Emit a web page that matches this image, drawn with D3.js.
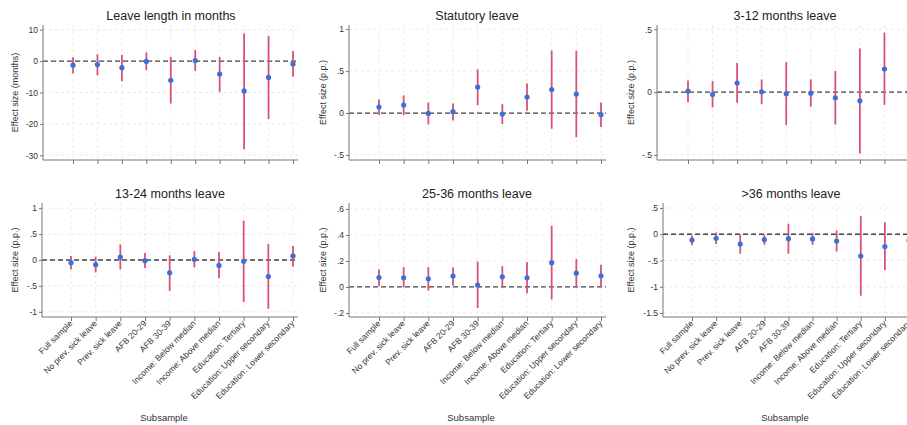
<!DOCTYPE html>
<html>
<head>
<meta charset="utf-8">
<script src="https://cdn.jsdelivr.net/npm/d3@7"></script>
<style>
  body { margin: 0; background: #fff; }
  svg { display: block; font-family: "Liberation Sans", Arial, sans-serif; }
</style>
</head>
<body>
<div id="chart"></div>
<script>
// subsamples on the x axis
var subsamples = ["Full sample", "No prev. sick leave", "Prev. sick leave", "AFB 20-29", "AFB 30-39",
  "Income: Below median", "Income: Above median", "Education: Tertiary", "Education: Upper secondary",
  "Education: Lower secondary"];

// leave length in months
var lengthEst = [-1.3, -1.1, -2.1, -0.1, -6.1, 0.2, -4.1, -9.5, -5.2, -0.9];
var lengthLo  = [-3.9, -4.5, -6.4, -2.9, -13.5, -3.1, -9.8, -28.1, -18.5, -5.0];
var lengthHi  = [1.2, 2.2, 2.0, 2.8, 1.3, 3.5, 1.3, 8.8, 8.1, 3.2];

// statutory leave
var statEst = [0.071, 0.095, -0.004, 0.016, 0.31, -0.012, 0.19, 0.28, 0.226, -0.02];
var statLo  = [-0.024, -0.024, -0.135, -0.09, 0.095, -0.13, 0.028, -0.187, -0.29, -0.167];
var statHi  = [0.163, 0.21, 0.127, 0.115, 0.52, 0.107, 0.353, 0.746, 0.742, 0.127];

// 3-12 months leave
var m3Est = [0.008, -0.019, 0.072, 0.003, -0.013, -0.008, -0.045, -0.069, 0.184, 0.0];
var m3Lo  = [-0.08, -0.122, -0.085, -0.096, -0.263, -0.117, -0.258, -0.489, -0.101, -0.1];
var m3Hi  = [0.093, 0.088, 0.231, 0.101, 0.239, 0.101, 0.168, 0.348, 0.473, 0.1];

// 13-24 months leave
var m13Est = [-0.052, -0.09, 0.058, -0.013, -0.247, 0.013, -0.104, -0.026, -0.318, 0.078];
var m13Lo  = [-0.18, -0.24, -0.18, -0.16, -0.597, -0.143, -0.35, -0.81, -0.94, -0.13];
var m13Hi  = [0.078, 0.065, 0.30, 0.136, 0.09, 0.175, 0.156, 0.76, 0.31, 0.27];

// 25-36 months leave
var m25Est = [0.073, 0.071, 0.063, 0.084, 0.015, 0.078, 0.071, 0.187, 0.106, 0.086];
var m25Lo  = [0.005, -0.003, -0.028, 0.01, -0.162, -0.003, -0.048, -0.096, -0.003, -0.003];
var m25Hi  = [0.137, 0.152, 0.152, 0.152, 0.195, 0.16, 0.192, 0.471, 0.215, 0.17];

// >36 months leave
var m36Est = [-0.11, -0.078, -0.188, -0.104, -0.084, -0.09, -0.13, -0.415, -0.234, -0.115];
var m36Lo  = [-0.208, -0.188, -0.37, -0.2, -0.37, -0.2, -0.33, -1.17, -0.68, -0.25];
var m36Hi  = [-0.026, 0.032, -0.006, -0.013, 0.2, 0.026, 0.071, 0.344, 0.227, 0.02];

// y tick values
var lengthTicks = [10, 0, -10, -20, -30];
var statTicks = [1, 0.5, 0, -0.5];
var m3Ticks = [0.5, 0, -0.5];
var m13Ticks = [1, 0.5, 0, -0.5, -1];
var m25Ticks = [0.6, 0.4, 0.2, 0, -0.2];
var m36Ticks = [0.5, 0, -0.5, -1, -1.5];

var width = 907, height = 425;

var svg = d3.select("#chart")
  .append("svg")
  .attr("width", width)
  .attr("height", height);

var panels = [
  { title: "Leave length in months", ylab: "Effect size (months)", est: lengthEst, lo: lengthLo, hi: lengthHi,
    ticks: lengthTicks, domain: [-31.5, 11.5], x0: 43, p0: 73, p1: 293, top: 25, bottom: 160, labX: 18, xlabels: false },
  { title: "Statutory leave", ylab: "Effect size (p.p.)", est: statEst, lo: statLo, hi: statHi,
    ticks: statTicks, domain: [-0.56, 1.05], x0: 349, p0: 379, p1: 601, top: 25, bottom: 160, labX: 326, xlabels: false },
  { title: "3-12 months leave", ylab: "Effect size (p.p.)", est: m3Est, lo: m3Lo, hi: m3Hi,
    ticks: m3Ticks, domain: [-0.54, 0.534], x0: 657, p0: 688, p1: 909, top: 25, bottom: 160, labX: 634, xlabels: false },
  { title: "13-24 months leave", ylab: "Effect size (p.p.)", est: m13Est, lo: m13Lo, hi: m13Hi,
    ticks: m13Ticks, domain: [-1.1, 1.1], x0: 42, p0: 71, p1: 293, top: 203, bottom: 317, labX: 18, xlabels: true },
  { title: "25-36 months leave", ylab: "Effect size (p.p.)", est: m25Est, lo: m25Lo, hi: m25Hi,
    ticks: m25Ticks, domain: [-0.231, 0.646], x0: 349, p0: 379, p1: 601, top: 203, bottom: 317, labX: 326, xlabels: true },
  { title: ">36 months leave", ylab: "Effect size (p.p.)", est: m36Est, lo: m36Lo, hi: m36Hi,
    ticks: m36Ticks, domain: [-1.576, 0.595], x0: 663, p0: 692, p1: 909, top: 203, bottom: 317, labX: 634, xlabels: true }
];

// stata style labels: .5 instead of 0.5
function fmt(v) {
  var s = String(v);
  return s.replace(/^0\./, ".").replace(/^-0\./, "-.");
}

panels.forEach(function(p) {
  var g = svg.append("g");
  var xEnd = p.p1 + 5;

  var x = d3.scalePoint()
    .domain(subsamples)
    .range([p.p0, p.p1]);

  var y = d3.scaleLinear()
    .domain(p.domain)
    .range([p.bottom, p.top]);

  // grid
  g.selectAll(".hgrid")
    .data(p.ticks)
    .enter().append("line")
    .attr("x1", p.x0).attr("x2", xEnd)
    .attr("y1", function(d) { return y(d) }).attr("y2", function(d) { return y(d) })
    .attr("stroke", "#e6e6e6")
    .attr("stroke-width", 0.8)
    .attr("stroke-dasharray", "3,3")

  g.selectAll(".vgrid")
    .data(subsamples)
    .enter().append("line")
    .attr("x1", function(d) { return x(d) }).attr("x2", function(d) { return x(d) })
    .attr("y1", p.top).attr("y2", p.bottom)
    .attr("stroke", "#e6e6e6")
    .attr("stroke-width", 0.8)
    .attr("stroke-dasharray", "3,3")

  // zero line
  g.append("line")
    .attr("x1", p.x0).attr("x2", xEnd)
    .attr("y1", y(0)).attr("y2", y(0))
    .attr("stroke", "#444")
    .attr("stroke-width", 1.3)
    .attr("stroke-dasharray", "5,3")

  // y axis
  var yAxis = g.append("g")
    .attr("transform", "translate(" + p.x0 + ",0)")
    .call(d3.axisLeft(y).tickValues(p.ticks).tickFormat(fmt).tickSize(3).tickPadding(2));
  yAxis.select(".domain").attr("d", "M0," + p.top + "V" + p.bottom).attr("stroke", "#777");
  yAxis.selectAll(".tick line").attr("stroke", "#777");
  yAxis.selectAll("text").attr("font-size", "8.5px").attr("fill", "#333")
    .attr("font-family", "Liberation Sans, Arial, sans-serif");

  // x axis
  var xAxis = g.append("g")
    .attr("transform", "translate(0," + p.bottom + ")")
    .call(d3.axisBottom(x).tickSize(4).tickFormat(""));
  xAxis.select(".domain").attr("d", "M" + p.x0 + ",0H" + xEnd).attr("stroke", "#777");
  xAxis.selectAll(".tick line").attr("stroke", "#777");

  if (p.xlabels) {
    g.selectAll(".xlab")
      .data(subsamples)
      .enter().append("text")
      .text(function(d) { return d })
      .attr("transform", function(d) { return "translate(" + (x(d) + 2) + "," + (p.bottom + 7) + ") rotate(-45)" })
      .attr("text-anchor", "end")
      .attr("font-size", "8.5px")
      .attr("fill", "#333")

    g.append("text")
      .text("Subsample")
      .attr("x", p.x0 + 122)
      .attr("y", 421)
      .attr("text-anchor", "middle")
      .attr("font-size", "9.5px")
      .attr("fill", "#333")
  }

  // error bars
  g.selectAll(".ci")
    .data(subsamples)
    .enter().append("line")
    .attr("x1", function(d) { return x(d) }).attr("x2", function(d) { return x(d) })
    .attr("y1", function(d, i) { return y(p.lo[i]) })
    .attr("y2", function(d, i) { return y(p.hi[i]) })
    .attr("stroke", "#d9507c")
    .attr("stroke-width", 1.8)

  g.selectAll(".pt")
    .data(subsamples)
    .enter().append("circle")
    .attr("cx", function(d) { return x(d) })
    .attr("cy", function(d, i) { return y(p.est[i]) })
    .attr("r", 2.6)
    .attr("fill", "#3c6fdc")

  // title
  g.append("text")
    .text(p.title)
    .attr("x", p.x0 + 128)
    .attr("y", p.top - 5)
    .attr("text-anchor", "middle")
    .attr("font-size", "12.5px")
    .attr("fill", "#222")

  // y label
  g.append("text")
    .text(p.ylab)
    .attr("transform", "translate(" + p.labX + "," + ((p.top + p.bottom) / 2) + ") rotate(-90)")
    .attr("text-anchor", "middle")
    .attr("font-size", "9px")
    .attr("fill", "#333")
});
</script>
</body>
</html>
